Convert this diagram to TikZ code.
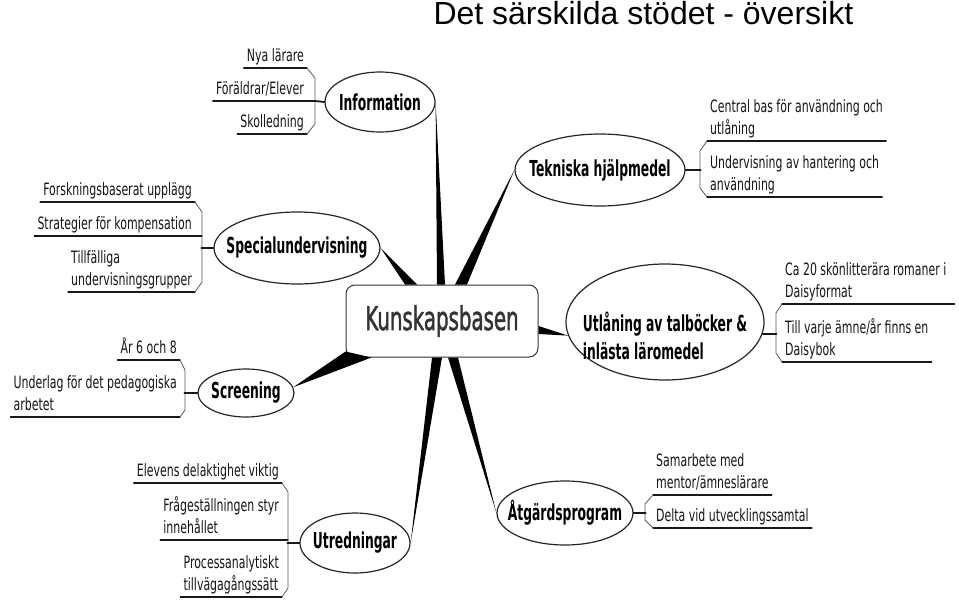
\documentclass[tikz,border=0pt]{standalone}
\usepackage{fontspec}
\setmainfont{DejaVu Sans}
\newfontfamily\leaffont{DejaVu Sans}[FakeStretch=0.645]
\newfontfamily\topicfont{DejaVu Sans}[FakeStretch=0.56]
\newfontfamily\hubfont{DejaVu Sans}[FakeStretch=0.6,FakeBold=1.3]
\newfontfamily\titlefont{Liberation Sans}
\usetikzlibrary{shapes.geometric}

\begin{document}
\begin{tikzpicture}[x=1pt,y=-1pt,line cap=round,line join=round,
  topic/.style={draw=black!85,line width=1.2pt,ellipse,inner xsep=-30pt,inner ysep=0pt,fill=white,text=black,font=\topicfont\bfseries\fontsize{22}{28}\selectfont},
  leaf/.style={inner xsep=3pt,inner ysep=0pt,align=left,text=black!92,font=\leaffont\fontsize{17}{22}\selectfont,execute at end node=\strut},
  leafline/.style={line width=1.3pt,black!90},
  twig/.style={line width=0.8pt,black!65},
  stem/.style={line width=1.8pt,black!90}]
\useasboundingbox (0,0) rectangle (959,608);
\node[anchor=base west,font=\titlefont\fontsize{32}{36}\selectfont] (title) at (430,24) {Det särskilda stödet - översikt};
\node[draw=black!80,line width=1pt,rounded corners=9pt,minimum width=192pt,minimum height=72pt,fill=white,text=black!80,font=\hubfont\fontsize{33}{38}\selectfont] (kb) at (442,321) {Kunskapsbasen};
\node[topic,minimum width=110pt,minimum height=60pt] (info) at (380,102) {Information};
\node[topic,minimum width=170pt,minimum height=72pt] (tek) at (600,170) {Tekniska hjälpmedel};
\node[topic,minimum width=166pt,minimum height=72pt] (spec) at (297,248) {Specialundervisning};
\node[topic,minimum width=198pt,minimum height=116pt] (utl) at (665,322) {};
\node[align=left,text=black,font=\topicfont\bfseries\fontsize{22}{28}\selectfont] (utlT) at (665,336) {Utlåning av talböcker \&\\inlästa läromedel};
\node[topic,minimum width=96pt,minimum height=48pt] (scr) at (246,393) {Screening};
\node[topic,minimum width=110pt,minimum height=60pt] (utr) at (355,543) {Utredningar};
\node[topic,minimum width=136pt,minimum height=64pt] (atg) at (565,513) {Åtgärdsprogram};
\fill[black] ([xshift=-5pt]kb.north) -- (info.east) -- ([xshift=3pt]kb.north) -- cycle;
\fill[black] ([xshift=13pt]kb.north) -- (tek.west) -- ([xshift=25pt]kb.north) -- cycle;
\fill[black] ([xshift=-37pt]kb.north) -- (spec.east) -- ([xshift=-25pt]kb.north) -- cycle;
\fill[black] ([yshift=-5pt]kb.east) -- (utl.188) -- ([yshift=-13pt]kb.east) -- cycle;
\fill[black] ([yshift=6pt]kb.south west) -- (scr.7) -- ([xshift=26pt]kb.south west) -- cycle;
\fill[black] ([xshift=-10pt]kb.south) -- (utr.east) -- (kb.south) -- cycle;
\fill[black] ([xshift=6pt]kb.south) -- (atg.west) -- ([xshift=16pt]kb.south) -- cycle;
\node[leaf,anchor=south east] (infoA) at (307,68) {Nya lärare};
\node[leaf,anchor=south east] (infoB) at (307,101) {Föräldrar/Elever};
\node[leaf,anchor=south east] (infoC) at (307,134) {Skolledning};
\draw[leafline] (infoA.south west) -- (infoA.south east);
\draw[leafline] (infoB.south west) -- ([xshift=8pt]infoB.south east);
\draw[leafline] (infoC.south west) -- (infoC.south east);
\draw[twig] (infoA.south east) -- ++(8,10) -- ([shift={(8,-10)}]infoC.south east) -- (infoC.south east);
\draw[stem] ([xshift=8pt]infoB.south east) -- (info.west);
\node[leaf,anchor=south east] (specA) at (195,202) {Forskningsbaserat upplägg};
\node[leaf,anchor=south east] (specB) at (195,236) {Strategier för kompensation};
\node[leaf,anchor=south east] (specC) at (195,292) {Tillfälliga\\undervisningsgrupper};
\draw[leafline] (specA.south west) -- (specA.south east);
\draw[leafline] (specB.south west) -- ([xshift=7pt]specB.south east);
\draw[leafline] (specC.south west) -- (specC.south east);
\draw[twig] (specA.south east) -- ++(7,10) -- ([shift={(7,-10)}]specC.south east) -- (specC.south east);
\draw[stem] (spec.west) -- ++(-12,0);
\node[leaf,anchor=south east] (scrA) at (180,360) {År 6 och 8};
\node[leaf,anchor=south east] (scrB) at (180,417) {Underlag för det pedagogiska\\arbetet};
\draw[leafline] (scrA.south west) -- (scrA.south east);
\draw[leafline] (scrB.south west) -- (scrB.south east);
\draw[twig] (scrA.south east) -- ++(5,10) -- ([shift={(5,-7)}]scrB.south east) -- (scrB.south east);
\draw[stem] (scr.west) -- ++(-13,0);
\node[leaf,anchor=south east] (utrA) at (282,483) {Elevens delaktighet viktig};
\node[leaf,anchor=south east] (utrB) at (282,540) {Frågeställningen styr\\innehållet};
\node[leaf,anchor=south east] (utrC) at (282,597) {Processanalytiskt\\tillvägagångssätt};
\draw[leafline] (utrA.south west) -- (utrA.south east);
\draw[leafline] (utrB.south west) -- ([xshift=6pt]utrB.south east);
\draw[leafline] (utrC.south west) -- (utrC.south east);
\draw[twig] (utrA.south east) -- ++(6,9) -- ([shift={(6,-9)}]utrC.south east) -- (utrC.south east);
\draw[stem] (utr.west) -- ++(-12,0);
\node[leaf,anchor=south west] (tekA) at (707,141) {Central bas för användning och\\utlåning};
\node[leaf,anchor=south west] (tekB) at (707,197) {Undervisning av hantering och\\användning};
\draw[leafline] (tekA.south west) -- (tekA.south east);
\draw[leafline] (tekB.south west) -- (tekB.south east);
\draw[twig] (tekA.south west) -- ++(-7,10) -- ([shift={(-7,-9)}]tekB.south west) -- (tekB.south west);
\draw[stem] (tek.east) -- ++(15,0);
\node[leaf,anchor=south west] (utlA) at (782,304) {Ca 20 skönlitterära romaner i\\Daisyformat};
\node[leaf,anchor=south west] (utlB) at (782,362) {Till varje ämne/år finns en\\Daisybok};
\draw[leafline] (utlA.south west) -- ([xshift=5pt]utlA.south east);
\draw[leafline] (utlB.south west) -- (utlB.south east);
\draw[twig] (utlA.south west) -- ++(-6,9) -- ([shift={(-6,-9)}]utlB.south west) -- (utlB.south west);
\draw[stem] (utl.-7) -- ++(14,0);
\node[leaf,anchor=south west] (atgA) at (653,495) {Samarbete med\\mentor/ämneslärare};
\node[leaf,anchor=south west] (atgB) at (653,528) {Delta vid utvecklingssamtal};
\draw[leafline] (atgA.south west) -- (atgA.south east);
\draw[leafline] (atgB.south west) -- (atgB.south east);
\draw[twig] (atgA.south west) -- ++(-8,9) -- ([shift={(-8,-8)}]atgB.south west) -- (atgB.south west);
\draw[stem] (atg.east) -- ++(12,0);
\end{tikzpicture}
\end{document}
